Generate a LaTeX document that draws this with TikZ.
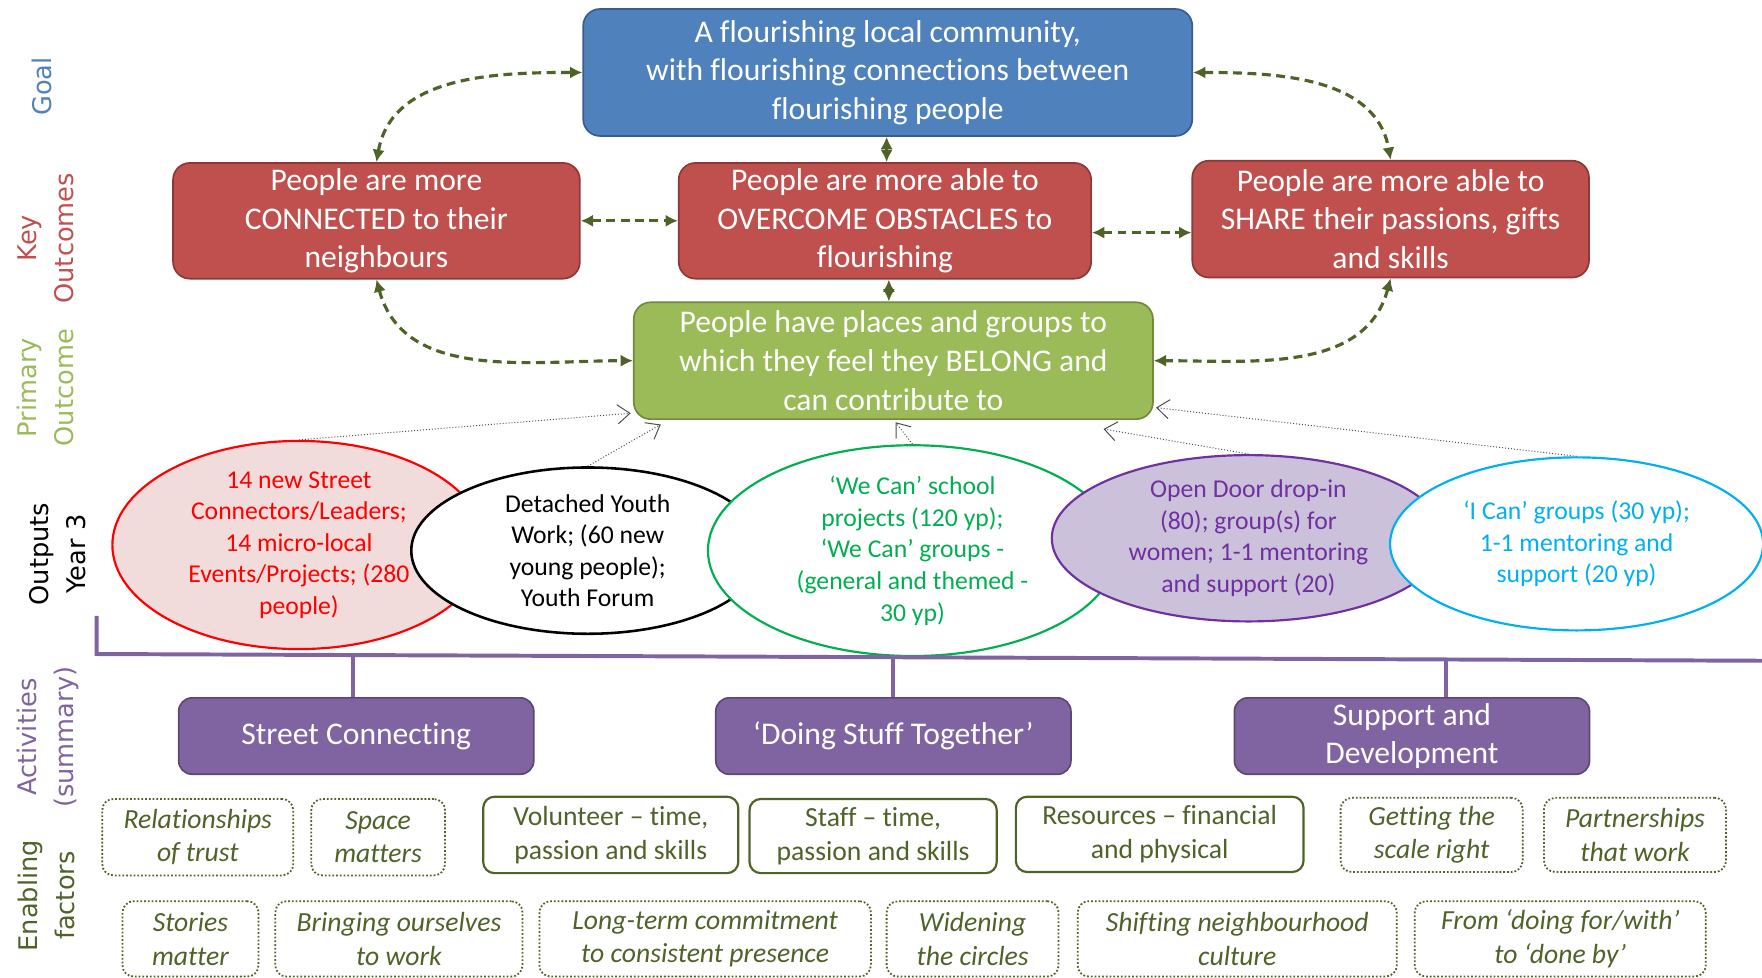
\documentclass[tikz,border=0pt]{standalone}
\usepackage{fontspec}
\setmainfont{Carlito}[Ligatures=NoCommon]
\newfontfamily\labfont{DejaVu Sans}
\usetikzlibrary{shapes.geometric,arrows.meta}
\definecolor{goalF}{HTML}{4F81BD}
\definecolor{goalD}{HTML}{385D8A}
\definecolor{redF}{HTML}{C0504D}
\definecolor{redD}{HTML}{8C3836}
\definecolor{grnF}{HTML}{9BBB59}
\definecolor{grnD}{HTML}{71893F}
\definecolor{purF}{HTML}{8064A2}
\definecolor{purD}{HTML}{5C4776}
\definecolor{olive}{HTML}{4F6228}
\definecolor{eRed}{HTML}{FF0000}
\definecolor{eRedF}{HTML}{F2DCDB}
\definecolor{eGrn}{HTML}{00B050}
\definecolor{ePur}{HTML}{7030A0}
\definecolor{ePurF}{HTML}{CCC1DA}
\definecolor{eCyan}{HTML}{00B0F0}
\tikzset{
  mainbox/.style={rectangle, rounded corners=3mm, line width=0.85pt, text=white, align=center,
    font=\fontsize{16}{19.6}\selectfont, inner sep=0pt},
  goalbox/.style={mainbox, fill=goalF, draw=goalD},
  keybox/.style={mainbox, fill=redF, draw=redD},
  primbox/.style={mainbox, fill=grnF, draw=grnD},
  actbox/.style={mainbox, fill=purF, draw=purD, rounded corners=2.4mm},
  outell/.style={ellipse, inner sep=0pt, align=center, line width=1.1pt,
    font=\fontsize{13}{16}\selectfont},
  enabsolid/.style={rectangle, rounded corners=2mm, draw=olive, line width=1.1pt, text=olive,
    align=center, inner sep=0pt, font=\fontsize{14}{17}\selectfont},
  enabdot/.style={enabsolid, line width=0.9pt, densely dotted, font=\fontsize{14}{17}\selectfont\itshape},
  sidelab/.style={rotate=90, align=center, inner sep=0pt, font=\labfont\fontsize{13}{18.8}\selectfont},
  dasharrow/.style={draw=olive, line width=1.6pt, dash pattern=on 4.5pt off 2.8pt,
    {Latex[length=2.2mm,width=2.2mm]}-{Latex[length=2.2mm,width=2.2mm]}},
  thinarrow/.style={draw=black!70, line width=0.5pt, densely dotted,
    -{Straight Barb[length=2.2mm,width=3.4mm]}},
  bracket/.style={draw=purF, line width=2pt},
}
\begin{document}
\begin{tikzpicture}[x=0.2mm,y=-0.2mm]
\useasboundingbox (0,0) rectangle (1568,870);

% side labels
\node[sidelab, text=goalF] (lgoal) at (37,77) {Goal};
\node[sidelab, text=redF] (lkey) at (40.5,212) {Key\\Outcomes};
\node[sidelab, text=grnF] (lprim) at (40.5,345) {Primary\\Outcome};
\node[sidelab, text=black] (lout) at (51.5,493) {Outputs\\Year 3};
\node[sidelab, text=purF] (lact) at (42.5,656) {Activities\\(summary)};
\node[sidelab, text=olive] (lenab) at (41.5,797) {Enabling\\factors};

% goal and outcomes
\node[goalbox, minimum width=108.4mm, minimum height=22.6mm] (goal) at (790,64.5)
  {A flourishing local community,\\with flourishing connections between\\flourishing people};
\node[keybox, minimum width=72.4mm, minimum height=20.6mm] (conn) at (335,196.5)
  {People are more\\CONNECTED to their\\neighbours};
\node[keybox, minimum width=73.4mm, minimum height=20.6mm] (over) at (787.5,196.5)
  {People are more able to\\OVERCOME OBSTACLES to\\flourishing};
\node[keybox, minimum width=70.6mm, minimum height=20.8mm] (share) at (1237.5,195)
  {People are more able to\\SHARE their passions, gifts\\and skills};
\node[primbox, minimum width=92.4mm, minimum height=20.8mm] (belong) at (795,321)
  {People have places and groups to\\which they feel they BELONG and\\can contribute to};

% dashed connectors
\draw[dasharrow] (conn.north) to[out=80,in=180] (goal.west);
\draw[dasharrow] (goal.east) to[out=0,in=100] (share.north);
\draw[dasharrow] ([xshift=-0.2mm]goal.south) -- ([xshift=-0.2mm]goal.south |- over.north);
\draw[dasharrow] (conn.east) -- (over.west);
\draw[dasharrow] ([yshift=-2.1mm]over.east) -- ([yshift=-2.1mm]over.east -| share.west);
\draw[dasharrow] ([xshift=0.7mm]over.south) -- ([xshift=0.7mm]over.south |- belong.north);
\draw[dasharrow] (conn.south) to[out=-75,in=180] (belong.west);
\draw[dasharrow] (share.south) to[out=-105,in=0] (belong.east);

% outputs ellipses
\node[outell, draw=eRed, fill=eRedF, text=eRed, minimum width=66.4mm, minimum height=30mm] (eA) at (266,485)
  {14 new Street\\Connectors/Leaders;\\14 micro-local\\Events/Projects; (280\\people)};
\node[outell, draw=black, fill=white, text=black, line width=1.3pt, minimum width=62.8mm, minimum height=29.6mm] (eB) at (523,490)
  {Detached Youth\\Work; (60 new\\young people);\\Youth Forum};
\node[outell, draw=eGrn, fill=white, text=eGrn, minimum width=72.8mm, minimum height=30.8mm] (eC) at (812,490)
  {‘We Can’ school\\projects (120 yp);\\‘We Can’ groups -\\(general and themed -\\30 yp)};
\node[outell, draw=ePur, fill=ePurF, text=ePur, minimum width=70mm, minimum height=29.6mm] (eD) at (1111,479)
  {Open Door drop-in\\(80); group(s) for\\women; 1-1 mentoring\\and support (20)};
\node[outell, draw=eCyan, fill=white, text=eCyan, minimum width=66.4mm, minimum height=30.8mm] (eE) at (1403,484)
  {‘I Can’ groups (30 yp);\\1-1 mentoring and\\support (20 yp)};

% thin arrows to primary outcome
\coordinate (tA) at ([xshift=-0.4mm,yshift=1.2mm]belong.south west);
\coordinate (tB) at ([xshift=-41.4mm,yshift=-0.8mm]belong.south);
\coordinate (tC) at ([xshift=0.4mm,yshift=-0.4mm]belong.south);
\coordinate (tD) at ([xshift=37.4mm,yshift=-1.6mm]belong.south);
\coordinate (tE) at ([xshift=0.4mm,yshift=2.2mm]belong.south east);
\draw[thinarrow] (eA.north) -- (tA);
\draw[thinarrow] (eB.north) -- (tB);
\draw[thinarrow] (eC.north) -- (tC);
\draw[thinarrow] (eD.north) -- (tD);
\draw[thinarrow] (eE.north) -- (tE);

% activities
\node[actbox, minimum width=63.2mm, minimum height=13.6mm] (sc) at (317,655) {Street Connecting};
\node[actbox, minimum width=63.2mm, minimum height=13.6mm] (ds) at (795,655) {‘Doing Stuff Together’};
\node[actbox, minimum width=63.2mm, minimum height=13.6mm] (sd) at (1256.5,655) {Support and\\Development};

% bracket
\coordinate (bTop) at (86,548);
\coordinate (bCorner) at (86,582);
\coordinate (bEnd) at (1570,588);
\coordinate (bA) at (314,582.9);
\coordinate (bB) at (795,584.9);
\coordinate (bC) at (1287,586.9);
\draw[bracket] (bTop) -- (bCorner) -- (bEnd);
\draw[bracket] (bA) -- (bA |- sc.north);
\draw[bracket] (bB) -- (bB |- ds.north);
\draw[bracket] (bC) -- (bC |- sd.north);

% enabling factors, row 1
\node[enabdot, minimum width=34mm, minimum height=13.6mm] (f1) at (176,745) {Relationships\\of trust};
\node[enabdot, minimum width=23.8mm, minimum height=13.6mm] (f2) at (336.5,745) {Space\\matters};
\node[enabsolid, minimum width=45.4mm, minimum height=13.6mm] (f3) at (543.5,743) {Volunteer – time,\\passion and skills};
\node[enabsolid, minimum width=44mm, minimum height=13.2mm] (f4) at (777,744) {Staff – time,\\passion and skills};
\node[enabsolid, minimum width=51.2mm, minimum height=13.4mm] (f5) at (1032,742.5) {Resources – financial\\and physical};
\node[enabdot, minimum width=32.4mm, minimum height=13.2mm] (f6) at (1274,743) {Getting the\\scale right};
\node[enabdot, minimum width=32.4mm, minimum height=13.2mm] (f7) at (1455,743) {Partnerships\\that work};
% row 2
\node[enabdot, minimum width=24.2mm, minimum height=13.4mm] (g1) at (169.5,835.5) {Stories\\matter};
\node[enabdot, minimum width=44mm, minimum height=13.4mm] (g2) at (355,835.5) {Bringing ourselves\\to work};
\node[enabdot, minimum width=59mm, minimum height=13.4mm] (g3) at (627.5,835.5) {Long-term commitment\\to consistent presence};
\node[enabdot, minimum width=30.6mm, minimum height=13.4mm] (g4) at (865.5,835.5) {Widening\\the circles};
\node[enabdot, minimum width=56.8mm, minimum height=13.4mm] (g5) at (1101,835.5) {Shifting neighbourhood\\culture};
\node[enabdot, minimum width=51.8mm, minimum height=13.4mm] (g6) at (1388.5,835.5) {From ‘doing for/with’\\to ‘done by’};
\end{tikzpicture}
\end{document}
